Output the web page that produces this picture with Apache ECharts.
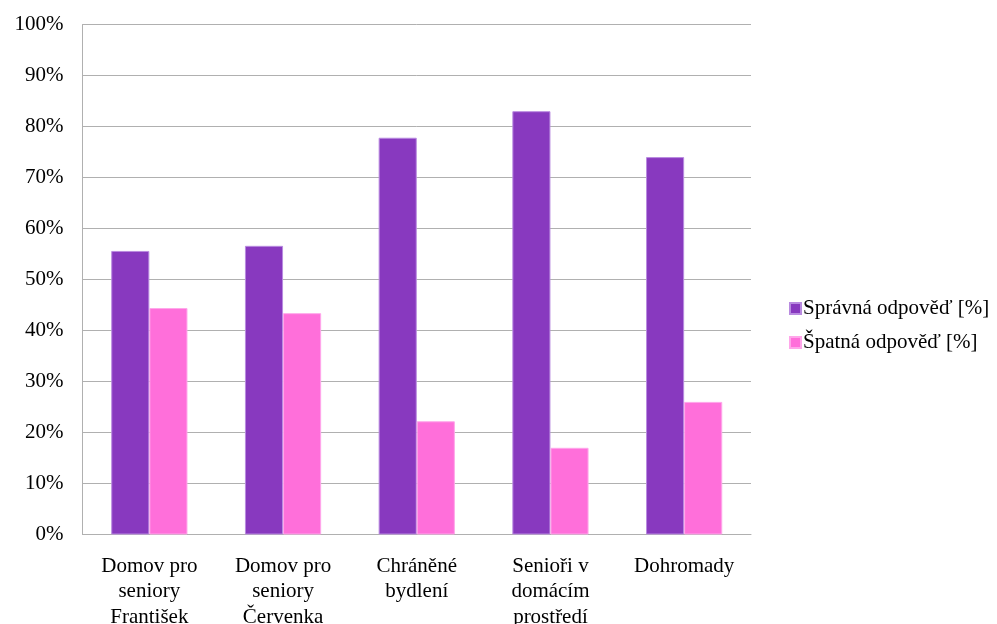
<!DOCTYPE html>
<html>
<head>
<meta charset="utf-8">
<script src="https://cdn.jsdelivr.net/npm/echarts@6/dist/echarts.min.js"></script>
<style>
  html, body { margin: 0; padding: 0; background: #fff; }
  #chart { width: 997px; height: 624px; }
</style>
</head>
<body>
<div id="chart"></div>
<script>
// Categories (groups of respondents)
const categories = [
  'Domov pro\nseniory\nFrantišek',
  'Domov pro\nseniory\nČervenka',
  'Chráněné\nbydlení',
  'Senioři v\ndomácím\nprostředí',
  'Dohromady'
];

// Series names
const seriesNames = ['Správná odpověď [%]', 'Špatná odpověď [%]'];

// Share of answers, in percent
const correct = [55.6, 56.6, 77.8, 83.0, 74.0];
const wrong = [44.4, 43.4, 22.2, 17.0, 26.0];

// Value axis ticks
const yMin = 0, yMax = 100, yStep = 10;

const font = 'Liberation Serif, Times New Roman, serif';
const chart = echarts.init(document.getElementById('chart'));

chart.setOption({
  animation: false,
  backgroundColor: '#ffffff',
  textStyle: { fontFamily: font, color: '#000' },
  grid: {
    left: 82.5, right: 246, top: 24.5, bottom: 89.5,
    containLabel: false,
    outerBoundsMode: 'none'
  },
  legend: {
    orient: 'vertical',
    left: 784,
    top: 293,
    itemWidth: 11,
    itemHeight: 11,
    itemGap: 13,
    icon: 'rect',
    textStyle: { fontFamily: font, fontSize: 21, color: '#000', padding: [0, 0, 0, -3] },
    data: seriesNames
  },
  xAxis: {
    type: 'category',
    data: categories,
    axisLine: { show: true, lineStyle: { color: '#b0b0b0', width: 1 } },
    axisTick: { show: false },
    axisLabel: {
      interval: 0,
      fontFamily: font,
      fontSize: 21,
      lineHeight: 25.5,
      color: '#000',
      margin: 19
    }
  },
  yAxis: {
    type: 'value',
    min: yMin,
    max: yMax,
    interval: yStep,
    axisLine: { show: true, lineStyle: { color: '#b0b0b0', width: 1 } },
    axisTick: { show: false },
    splitLine: { show: true, lineStyle: { color: '#b0b0b0', width: 1 } },
    axisLabel: {
      fontFamily: font,
      fontSize: 21,
      color: '#000',
      margin: 19,
      formatter: v => v + '%'
    }
  },
  series: [
    {
      name: seriesNames[0],
      type: 'bar',
      data: correct,
      barGap: '0%',
      barCategoryGap: '43%',
      itemStyle: { color: '#8839bf', borderColor: '#b98be0', borderWidth: 1 }
    },
    {
      name: seriesNames[1],
      type: 'bar',
      data: wrong,
      itemStyle: { color: '#ff6fda', borderColor: '#ffa6ea', borderWidth: 1 }
    }
  ]
});
</script>
</body>
</html>
